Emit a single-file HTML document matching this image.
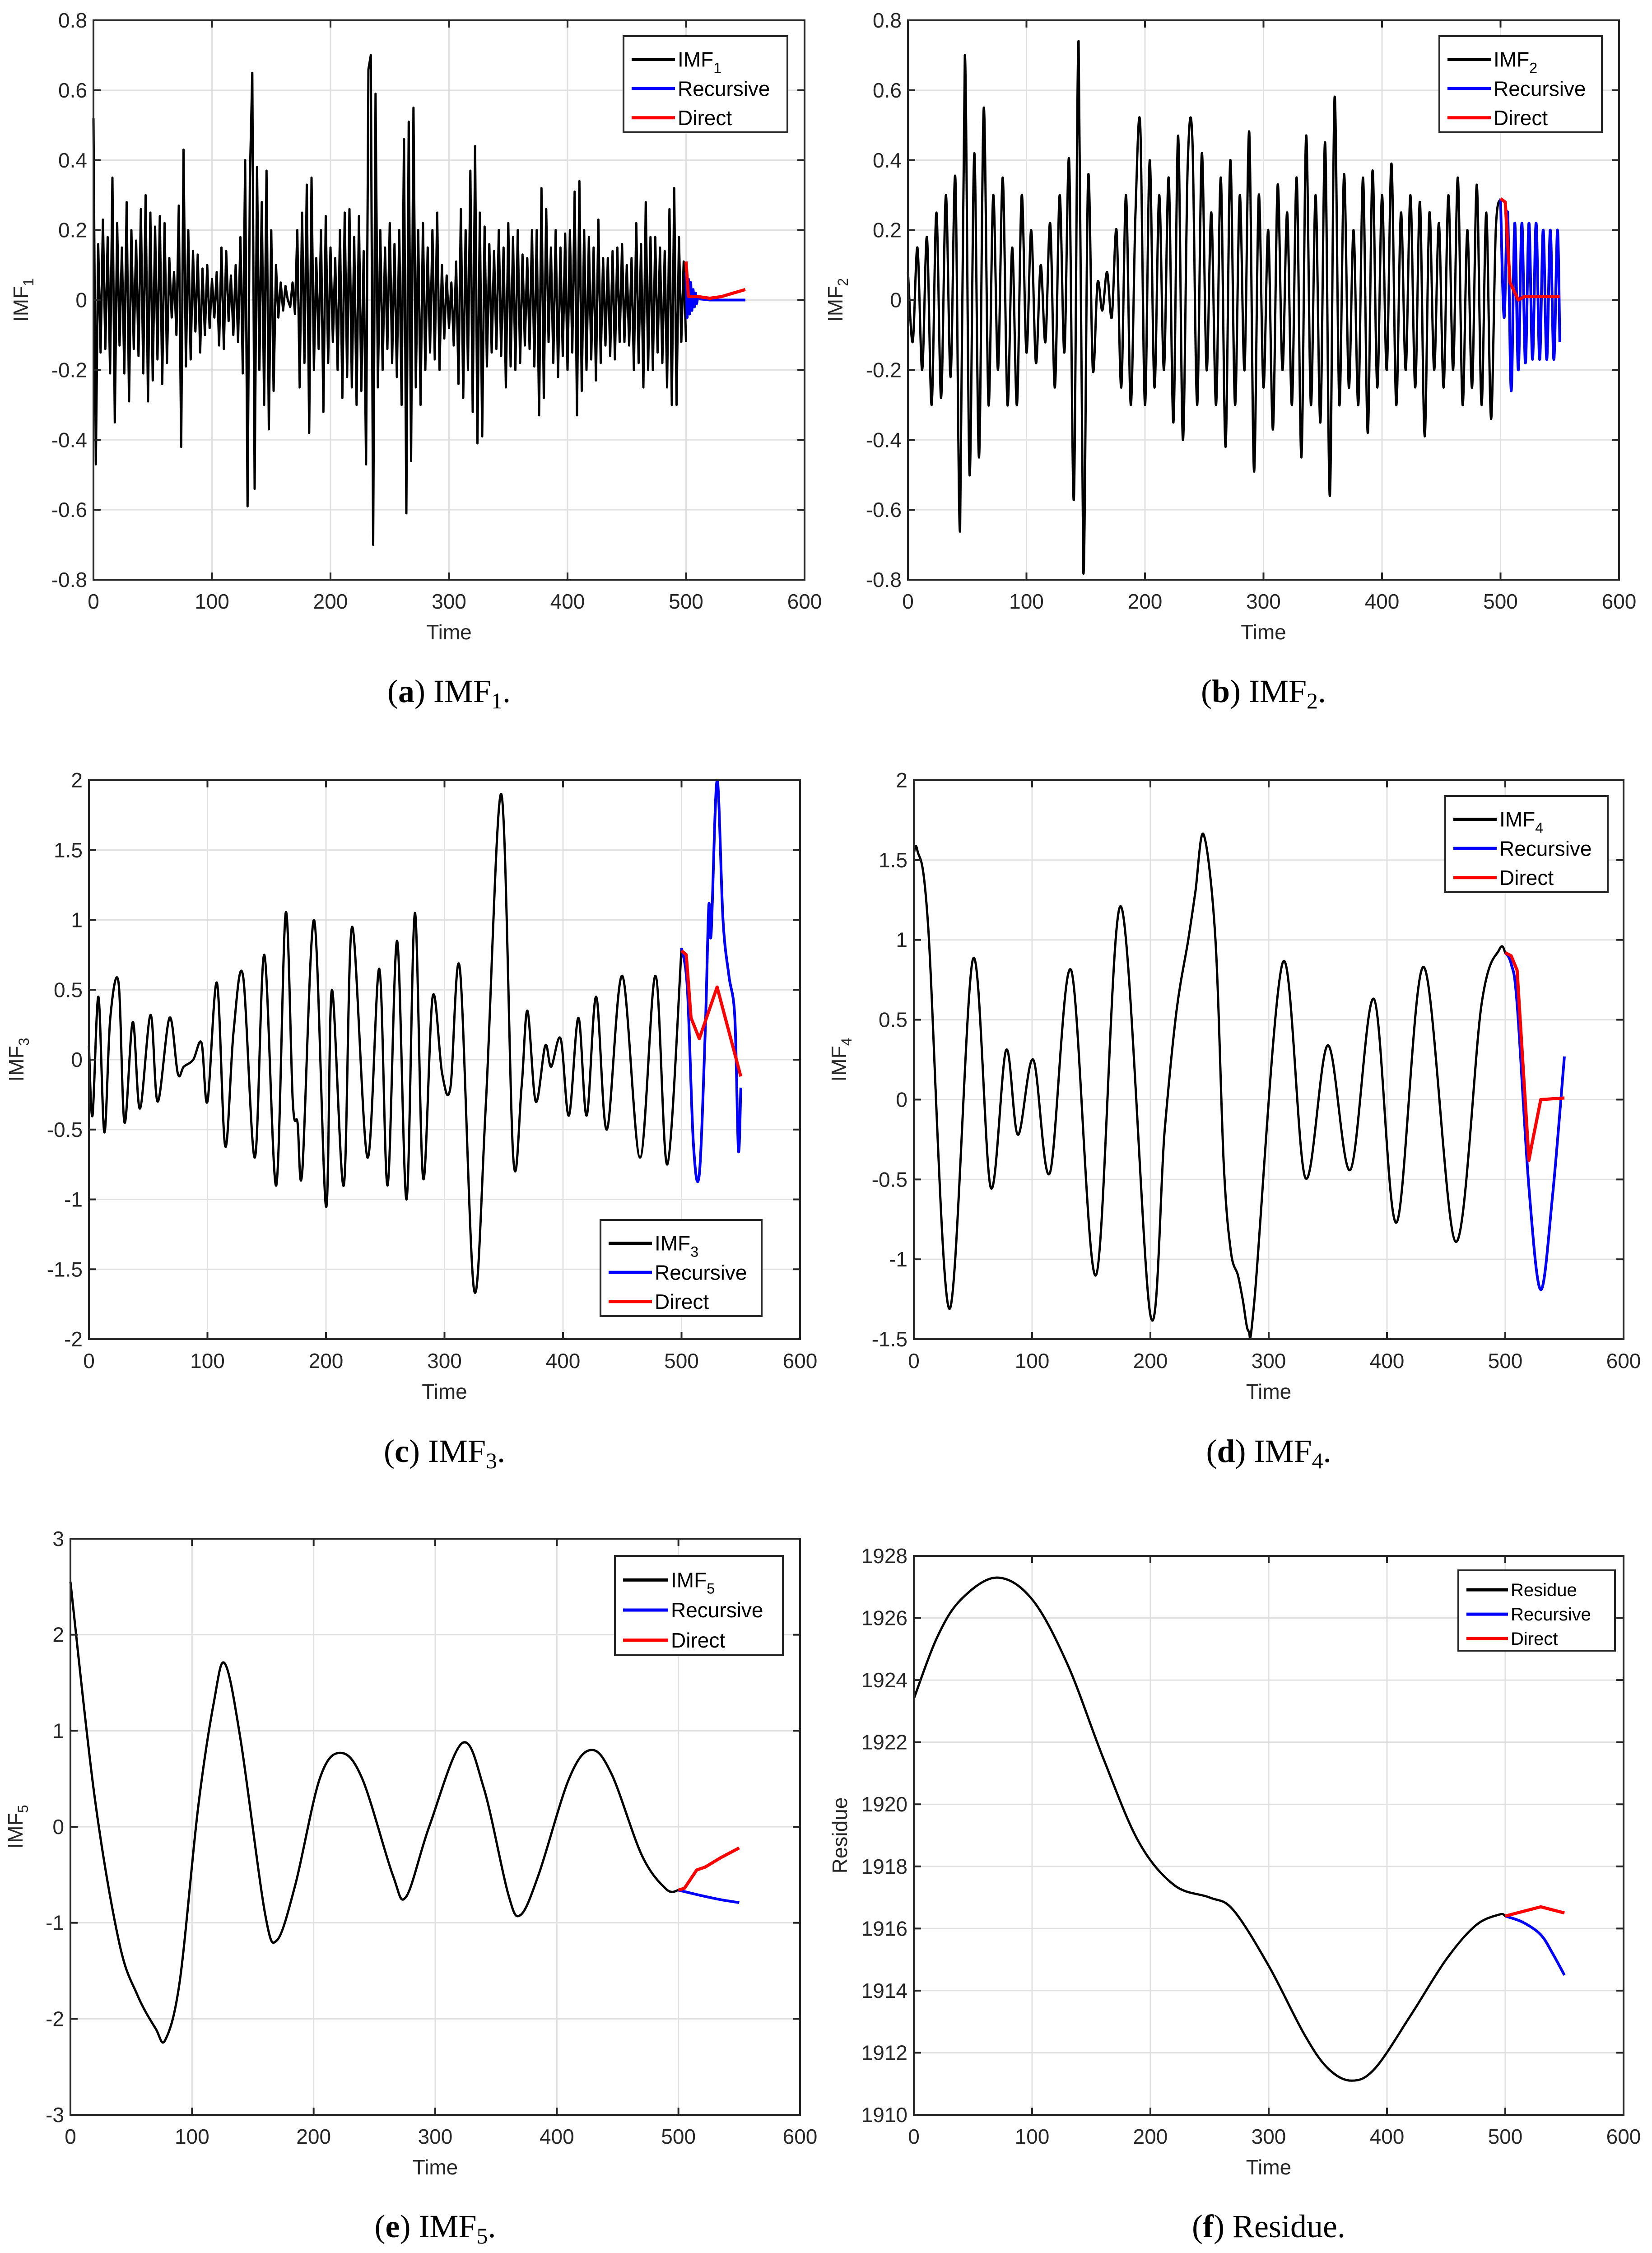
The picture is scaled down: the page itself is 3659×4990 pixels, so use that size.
<!DOCTYPE html>
<html><head><meta charset="utf-8"><title>IMF forecasts</title>
<style>
html,body{margin:0;padding:0;background:#fff;}
svg{display:block;}
.tk{font-family:"Liberation Sans",Arial,sans-serif;font-size:46px;fill:#262626;}
.lg{font-family:"Liberation Sans",Arial,sans-serif;fill:#000;}
.cap{font-family:"Liberation Serif","Times New Roman",serif;font-size:72px;fill:#000;}
</style></head>
<body>
<svg id="fig" xmlns="http://www.w3.org/2000/svg" width="3659" height="4990" viewBox="0 0 3659 4990">
<rect x="0" y="0" width="3659" height="4990" fill="#fff"/>
</svg>
<script>
// ---------- data ----------
const xTicks = [0,100,200,300,400,500,600];
// IMF1 (t = 0..500 step 2)
const imf1Vals = [0.52,-0.47,0.16,-0.15,0.23,-0.14,0.18,-0.21,0.35,-0.35,
0.22,-0.13,0.15,-0.21,0.28,-0.29,0.2,-0.14,0.17,-0.16,
0.26,-0.21,0.3,-0.29,0.25,-0.23,0.21,-0.17,0.24,-0.24,
0.22,-0.18,0.12,-0.05,0.08,-0.1,0.27,-0.42,0.43,-0.19,
0.2,-0.17,0.14,-0.09,0.13,-0.15,0.09,-0.1,0.1,-0.08,
0.06,-0.05,0.08,-0.13,0.15,-0.14,0.14,-0.06,0.07,-0.1,
0.1,-0.12,0.18,-0.21,0.4,-0.59,0.35,0.65,-0.54,0.38,
-0.2,0.28,-0.3,0.37,-0.37,0.2,-0.26,0.1,-0.05,0.05,
-0.03,0.04,0.0,-0.02,0.05,-0.04,0.2,-0.25,0.25,-0.18,
0.33,-0.38,0.35,-0.2,0.12,-0.14,0.2,-0.32,0.24,-0.18,
0.15,-0.12,0.12,-0.2,0.2,-0.28,0.25,-0.22,0.26,-0.25,
0.18,-0.3,0.24,-0.26,0.14,-0.47,0.66,0.7,-0.7,0.59,
-0.25,0.2,-0.2,0.15,-0.14,0.22,-0.18,0.16,-0.22,0.2,
-0.3,0.46,-0.61,0.51,-0.46,0.55,-0.25,0.2,-0.3,0.22,
-0.2,0.15,-0.15,0.2,-0.17,0.25,-0.2,0.1,-0.11,0.07,
-0.08,0.05,-0.13,0.11,-0.24,0.26,-0.28,0.2,-0.2,0.37,
-0.32,0.44,-0.41,0.25,-0.39,0.21,-0.19,0.16,-0.15,0.14,
-0.14,0.2,-0.16,0.15,-0.25,0.22,-0.19,0.18,-0.2,0.2,
-0.18,0.13,-0.13,0.12,-0.14,0.2,-0.19,0.2,-0.33,0.32,
-0.28,0.26,-0.12,0.15,-0.18,0.2,-0.22,0.15,-0.16,0.19,
-0.2,0.2,-0.15,0.31,-0.33,0.34,-0.26,0.2,-0.2,0.18,
-0.17,0.15,-0.23,0.23,-0.18,0.12,-0.13,0.12,-0.16,0.14,
-0.17,0.15,-0.12,0.16,-0.12,0.1,-0.13,0.12,-0.2,0.22,
-0.18,0.16,-0.25,0.28,-0.2,0.18,-0.2,0.18,-0.15,0.15,
-0.18,0.14,-0.25,0.26,-0.3,0.32,-0.3,0.18,-0.12,0.11,-0.12];
const imf1RecT = [500,501,502,503,504,505,506,507,508,509,510,512,515,520,530,540,550];
const imf1RecV = [0.08,-0.05,0.06,-0.04,0.05,-0.03,0.03,-0.02,0.02,-0.01,0.01,0.003,0.002,0,0,0,0];
const imf1DirT = [500,502,510,520,530,540,550];
const imf1DirV = [0.11,0.01,0.01,0.005,0.01,0.02,0.03];
// IMF2 (t = 0..500 step 4)
const imf2Vals = [0.08,-0.12,0.15,-0.2,0.18,-0.3,0.25,-0.28,0.3,-0.22,
0.35,-0.66,0.70,-0.5,0.42,-0.45,0.55,-0.3,0.3,-0.2,
0.35,-0.3,0.15,-0.3,0.3,-0.15,0.2,-0.18,0.1,-0.12,
0.22,-0.25,0.3,-0.15,0.4,-0.57,0.74,-0.78,0.35,-0.2,
0.05,-0.03,0.08,-0.05,0.2,-0.25,0.3,-0.3,0.25,0.5,
-0.3,0.4,-0.25,0.3,-0.2,0.35,-0.35,0.47,-0.4,0.38,
0.46,-0.3,0.42,-0.2,0.25,-0.3,0.35,-0.42,0.4,-0.3,
0.3,-0.2,0.48,-0.49,0.3,-0.25,0.2,-0.37,0.33,-0.2,
0.25,-0.3,0.35,-0.45,0.47,-0.3,0.3,-0.35,0.45,-0.56,
0.58,-0.3,0.36,-0.25,0.2,-0.3,0.35,-0.38,0.37,-0.25,
0.3,-0.2,0.39,-0.3,0.25,-0.2,0.3,-0.25,0.28,-0.39,
0.25,-0.2,0.22,-0.25,0.3,-0.2,0.35,-0.3,0.2,-0.25,
0.33,-0.3,0.25,-0.34,0.2,0.29];
const imf2RecT = [500,503,506,509,512,515,518,521,524,527,530,533,536,539,542,545,548,550];
const imf2RecV = [0.29,-0.05,0.25,-0.26,0.22,-0.2,0.22,-0.18,0.22,-0.17,0.22,-0.17,0.2,-0.17,0.2,-0.17,0.2,-0.12];
const imf2DirT = [500,504,508,515,520,535,550];
const imf2DirV = [0.29,0.28,0.05,0.0,0.01,0.01,0.01];
// IMF3
const imf3T = [0,3,8,13,18,25,30,37,43,52,58,68,75,80,88,95,100,108,115,122,130,140,148,158,166,172,176,180,190,200,205,215,222,235,245,252,260,268,275,282,290,298,305,313,325,335,348,358,365,370,377,385,390,398,405,413,420,428,437,450,465,478,488,500];
const imf3V = [0.1,-0.4,0.45,-0.52,0.3,0.55,-0.45,0.27,-0.35,0.32,-0.3,0.3,-0.1,-0.05,0.0,0.12,-0.3,0.55,-0.62,0.2,0.6,-0.7,0.75,-0.9,1.05,-0.3,-0.45,-0.8,1.0,-1.05,0.5,-0.9,0.95,-0.7,0.65,-0.9,0.85,-1.0,1.05,-0.85,0.45,-0.1,-0.2,0.65,-1.65,-0.3,1.9,-0.7,-0.2,0.35,-0.3,0.1,-0.05,0.15,-0.4,0.3,-0.4,0.45,-0.5,0.6,-0.7,0.6,-0.75,0.8];
const imf3RecT = [500,505,510,515,520,523,525,530,535,540,545,548,550];
const imf3RecV = [0.8,0.5,-0.6,-0.82,0.2,1.1,0.9,2.0,1.0,0.6,0.3,-0.65,-0.2];
const imf3DirT = [500,504,508,515,530,550];
const imf3DirV = [0.78,0.75,0.3,0.15,0.52,-0.12];
// IMF4
const imf4T = [0,3,12,30,50,65,78,88,101,115,133,154,175,200,212,222,232,238,245,255,262,268,274,278,283,288,312,331,350,369,389,408,431,458,480,495,500];
const imf4V = [1.54,1.56,1.1,-1.31,0.88,-0.55,0.31,-0.22,0.25,-0.46,0.81,-1.1,1.21,-1.35,-0.2,0.55,1.0,1.3,1.66,1.0,-0.4,-0.95,-1.1,-1.25,-1.45,-1.25,0.86,-0.49,0.34,-0.44,0.63,-0.77,0.83,-0.89,0.6,0.94,0.92];
const imf4RecT = [500,505,510,520,530,540,550];
const imf4RecV = [0.92,0.85,0.6,-0.55,-1.19,-0.6,0.27];
const imf4DirT = [500,505,510,520,522,530,550];
const imf4DirV = [0.92,0.9,0.81,-0.38,-0.3,0.0,0.01];
// IMF5
const imf5T = [0,20,40,55,70,78,90,105,118,127,140,160,170,185,205,222,240,265,276,295,322,340,360,370,385,410,428,445,470,490,500];
const imf5V = [2.55,0.3,-1.2,-1.75,-2.1,-2.22,-1.6,0.2,1.3,1.7,0.9,-0.9,-1.18,-0.6,0.5,0.77,0.5,-0.5,-0.73,0.0,0.87,0.4,-0.7,-0.92,-0.5,0.5,0.8,0.55,-0.3,-0.65,-0.66];
const imf5RecT = [500,520,535,550];
const imf5RecV = [-0.66,-0.72,-0.76,-0.79];
const imf5DirT = [500,505,515,522,535,550];
const imf5DirV = [-0.66,-0.64,-0.45,-0.42,-0.32,-0.22];
// Residue
const resT = [0,20,40,70,100,130,160,190,220,250,270,300,330,350,370,390,420,450,475,495,500];
const resV = [1923.4,1925.4,1926.6,1927.3,1926.6,1924.5,1921.5,1918.8,1917.4,1917.0,1916.6,1914.8,1912.6,1911.5,1911.1,1911.5,1913.2,1915.0,1916.1,1916.45,1916.4];
const resRecT = [500,515,530,540,550];
const resRecV = [1916.4,1916.2,1915.8,1915.2,1914.5];
const resDirT = [500,510,520,530,550];
const resDirV = [1916.4,1916.5,1916.6,1916.7,1916.5];
// y tick labels
const yTicks12 = [-0.8,-0.6,-0.4,-0.2,0,0.2,0.4,0.6,0.8];
const yTicks3 = [-2,-1.5,-1,-0.5,0,0.5,1,1.5,2];
const yTicks4 = [-1.5,-1,-0.5,0,0.5,1,1.5,2];
const yTicks5 = [-3,-2,-1,0,1,2,3];
const yTicksR = [1910,1912,1914,1916,1918,1920,1922,1924,1926,1928];

// ---------- drawing ----------
const NS = "http://www.w3.org/2000/svg";
const svg = document.getElementById('fig');
function el(tag, attrs, parent){
  const e = document.createElementNS(NS, tag);
  for (const k in attrs) e.setAttribute(k, attrs[k]);
  (parent||svg).appendChild(e);
  return e;
}
function stepT(n, step){ const a=[]; for(let i=0;i<n;i++) a.push(i*step); return a; }
function polyD(T,V,sx,sy){
  return T.map((t,i)=>(i?'L':'M')+sx(t).toFixed(1)+','+sy(V[i]).toFixed(1)).join(' ');
}
function smoothD(T,V,sx,sy){
  const P=T.map((t,i)=>[sx(t),sy(V[i])]);
  let d='M'+P[0][0].toFixed(1)+','+P[0][1].toFixed(1);
  for(let i=0;i<P.length-1;i++){
    const p0=P[Math.max(0,i-1)],p1=P[i],p2=P[i+1],p3=P[Math.min(P.length-1,i+2)];
    const c1=[p1[0]+(p2[0]-p0[0])/6,p1[1]+(p2[1]-p0[1])/6];
    const c2=[p2[0]-(p3[0]-p1[0])/6,p2[1]-(p3[1]-p1[1])/6];
    d+=' C'+c1[0].toFixed(1)+','+c1[1].toFixed(1)+' '+c2[0].toFixed(1)+','+c2[1].toFixed(1)+' '+p2[0].toFixed(1)+','+p2[1].toFixed(1);
  }
  return d;
}
function fmt(v){ return (Math.round(v*10)/10).toString(); }

function panel(c){
  const g = el('g',{});
  
  
  const sx = t => c.x0 + (t-0)/(600)*(c.x1-c.x0);
  const sy = v => c.y1 - (v-c.ymin)/(c.ymax-c.ymin)*(c.y1-c.y0);
  const grid = el('g',{stroke:'#e0e0e0','stroke-width':3},g);
  
  
  xTicks.forEach(t=>{ if(t>0&&t<600) el('line',{x1:sx(t),x2:sx(t),y1:c.y0,y2:c.y1},grid); });
  c.yt.forEach(v=>{ if(v>c.ymin&&v<c.ymax) el('line',{x1:c.x0,x2:c.x1,y1:sy(v),y2:sy(v)},grid); });
  const draw = c.smooth ? smoothD : polyD;
  const blk = el('path',{d:draw(c.T,c.V,sx,sy),fill:'none',stroke:'#000','stroke-width':5,'stroke-linejoin':'round'},g);
  
  
  const rec = el('path',{d:draw(c.RT,c.RV,sx,sy),fill:'none',stroke:'#0000ff','stroke-width':6,'stroke-linejoin':'round'},g);
  
  
  const dir = el('path',{d:polyD(c.DT,c.DV,sx,sy),fill:'none',stroke:'#ff0000','stroke-width':7,'stroke-linejoin':'round'},g);
  
  
  const box = el('rect',{x:c.x0,y:c.y0,width:c.x1-c.x0,height:c.y1-c.y0,fill:'none',stroke:'#262626','stroke-width':4},g);
  
  
  const tk = el('g',{stroke:'#262626','stroke-width':4},g);
  xTicks.forEach(t=>{ el('line',{x1:sx(t),x2:sx(t),y1:c.y1,y2:c.y1-16},tk); el('line',{x1:sx(t),x2:sx(t),y1:c.y0,y2:c.y0+16},tk); });
  c.yt.forEach(v=>{ el('line',{x1:c.x0,x2:c.x0+16,y1:sy(v),y2:sy(v)},tk); el('line',{x1:c.x1,x2:c.x1-16,y1:sy(v),y2:sy(v)},tk); });
  xTicks.forEach(t=>{
    const tx = el('text',{x:sx(t),y:c.y1+64,'text-anchor':'middle',class:'tk'},g);
    
    
    tx.textContent = t;
  });
  c.yt.forEach(v=>{
    const tx = el('text',{x:c.x0-14,y:sy(v)+16,'text-anchor':'end',class:'tk'},g);
    
    
    tx.textContent = fmt(v);
  });
  const xl = el('text',{x:(c.x0+c.x1)/2,y:c.y1+132,'text-anchor':'middle',class:'tk'},g);
  
  
  xl.textContent='Time';
  const yl = el('text',{x:0,y:0,'text-anchor':'middle',class:'tk',transform:`translate(${c.ylx},${(c.y0+c.y1)/2}) rotate(-90)`},g);
  
  
  if(c.sub){ yl.innerHTML='IMF<tspan dy="12" font-size="32">'+c.sub+'</tspan>'; } else yl.textContent=c.ylab;
  const L=c.leg, fs=L.fs||46;
  const lg = el('g',{},g);
  
  
  el('rect',{x:L.x,y:L.y,width:L.w,height:L.h,fill:'#fff',stroke:'#262626','stroke-width':4},lg);
  const names=[c.sub?'IMF':c.ylab,'Recursive','Direct'], cols=['#000','#0000ff','#ff0000'];
  const rowH=L.h/3.3;
  names.forEach((n,i)=>{
    const yy=L.y+rowH*(0.8+i);
    const ent = el('g',{},lg);
    
    
    el('line',{x1:L.x+18,x2:L.x+18+L.ll,y1:yy,y2:yy,stroke:cols[i],'stroke-width':7},ent);
    const t=el('text',{x:L.x+24+L.ll,y:yy+fs*0.35,class:'lg','font-size':fs},ent);
    if(i===0&&c.sub){ t.innerHTML='IMF<tspan dy="14" font-size="'+(fs*0.7)+'">'+c.sub+'</tspan>'; } else t.textContent=n;
  });
  const cap = el('text',{x:(c.x0+c.x1)/2,y:c.capY,'text-anchor':'middle',class:'cap'},g);
  
  
  cap.innerHTML = '(<tspan font-weight="bold">'+c.letter+'</tspan>) '+(c.sub?'IMF<tspan dy="14" font-size="50">'+c.sub+'</tspan><tspan dy="-14">.</tspan>':'Residue.');
}

panel({name:'panel-imf1',series:'imf1',x0:207,x1:1782,y0:45,y1:1284,ymin:-0.8,ymax:0.8,yt:yTicks12,
  T:stepT(imf1Vals.length,2),V:imf1Vals,RT:imf1RecT,RV:imf1RecV,DT:imf1DirT,DV:imf1DirV,
  sub:'1',ylx:62,leg:{x:1381,y:80,w:363,h:213,ll:96},capY:1555,letter:'a'});
panel({name:'panel-imf2',series:'imf2',x0:2011,x1:3586,y0:45,y1:1284,ymin:-0.8,ymax:0.8,yt:yTicks12,smooth:true,
  T:stepT(imf2Vals.length,4),V:imf2Vals,RT:imf2RecT,RV:imf2RecV,DT:imf2DirT,DV:imf2DirV,
  sub:'2',ylx:1866,leg:{x:3188,y:80,w:360,h:213,ll:96},capY:1555,letter:'b'});
panel({name:'panel-imf3',series:'imf3',x0:197,x1:1772,y0:1728,y1:2966,ymin:-2,ymax:2,yt:yTicks3,smooth:true,
  T:imf3T,V:imf3V,RT:imf3RecT,RV:imf3RecV,DT:imf3DirT,DV:imf3DirV,
  sub:'3',ylx:52,leg:{x:1330,y:2702,w:357,h:213,ll:96},capY:3238,letter:'c'});
panel({name:'panel-imf4',series:'imf4',x0:2024,x1:3596,y0:1728,y1:2966,ymin:-1.5,ymax:2,yt:yTicks4,smooth:true,
  T:imf4T,V:imf4V,RT:imf4RecT,RV:imf4RecV,DT:imf4DirT,DV:imf4DirV,
  sub:'4',ylx:1874,leg:{x:3201,y:1763,w:360,h:213,ll:96},capY:3238,letter:'d'});
panel({name:'panel-imf5',series:'imf5',x0:156,x1:1772,y0:3408,y1:4684,ymin:-3,ymax:3,yt:yTicks5,smooth:true,
  T:imf5T,V:imf5V,RT:imf5RecT,RV:imf5RecV,DT:imf5DirT,DV:imf5DirV,
  sub:'5',ylx:50,leg:{x:1362,y:3446,w:372,h:220,ll:100},capY:4955,letter:'e'});
panel({name:'panel-residue',series:'residue',x0:2024,x1:3596,y0:3446,y1:4684,ymin:1910,ymax:1928,yt:yTicksR,smooth:true,
  T:resT,V:resV,RT:resRecT,RV:resRecV,DT:resDirT,DV:resDirV,
  ylab:'Residue',ylx:1876,leg:{x:3230,y:3478,w:347,h:178,ll:92,fs:40},capY:4955,letter:'f'});
</script>
</body></html>
